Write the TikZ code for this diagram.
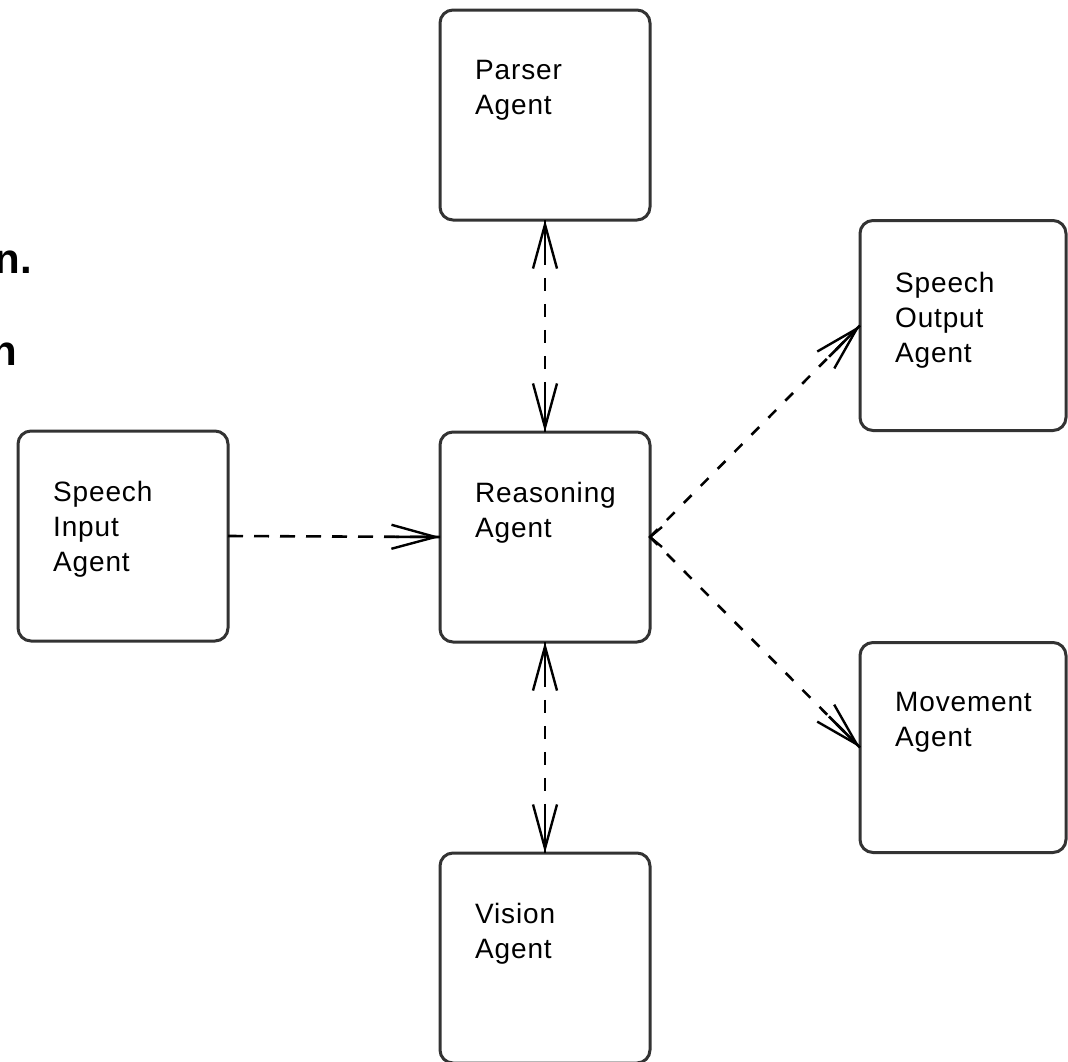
\documentclass[tikz,border=0pt]{standalone}
\usepackage{fontspec}
\setmainfont{Liberation Sans}
\newfontfamily\agentfont[LetterSpace=3]{Liberation Sans}
\usetikzlibrary{arrows.meta,calc}
\begin{document}
\begin{tikzpicture}[x=1pt,y=-1pt,
  agent/.style={draw=black!80,line width=3pt,rounded corners=13pt,
    minimum width=210pt,minimum height=210pt,inner sep=0pt,outer sep=0pt},
  caption/.style={anchor=north west,inner sep=0pt,align=left,
    font=\agentfont\fontsize{28}{35}\selectfont},
  barb/.tip={Straight Barb[length=44pt,width=24pt,line width=2.4pt]},
  link/.style={line width=2.6pt,dash pattern=on 13pt off 13pt,-barb},
  wide dashes/.style={dash pattern=on 15pt off 11pt},
  twoway/.style={link,barb-barb},
  shaft/.style={line width=2.6pt,solid},
  fragment/.style={anchor=base east,inner sep=0pt,
    font=\bfseries\fontsize{42}{50}\selectfont}
]
\fill[white] (0,0) rectangle (1068,1061);
\useasboundingbox (0,0) rectangle (1068,1061);

% agents
\node[agent] (parser) at (545,115) {};
\node[agent] (reason) at (545,537) {};
\node[agent] (vision) at (545,958) {};
\node[agent] (input)  at (123,536) {};
\node[agent,minimum width=206pt] (output) at (963,325.5) {};
\node[agent,minimum width=206pt] (move)   at (963,747.5) {};

% captions
\node[caption] (parser-t) at ([xshift=35pt,yshift=-50pt]parser.north west) {Parser\\Agent};
\node[caption] (reason-t) at ([xshift=35pt,yshift=-50pt]reason.north west) {Reasoning\\Agent};
\node[caption] (vision-t) at ([xshift=35pt,yshift=-50pt]vision.north west) {Vision\\Agent};
\node[caption] (input-t)  at ([xshift=35pt,yshift=-50pt]input.north west) {Speech\\Input\\Agent};
\node[caption] (output-t) at ([xshift=35pt,yshift=-52pt]output.north west) {Speech\\Output\\Agent};
\node[caption] (move-t)   at ([xshift=35pt,yshift=-50pt]move.north west) {Movement\\Agent};

% message links
\draw[link,wide dashes] (input.east) -- (reason.west);
\draw[twoway] (parser.south) -- (reason.north);
\draw[twoway] (reason.south) -- (vision.north);
\draw[link,dash pattern=on 11pt off 13pt] (reason.east) -- (output.west);
\draw[link,dash pattern=on 11pt off 13pt] (reason.east) -- (move.west);

% solid shafts inside the open heads
\draw[shaft] (reason.west) -- ($(reason.west)!44pt!(input.east)$);
\draw[shaft] (parser.south) -- ($(parser.south)!44pt!(reason.north)$);
\draw[shaft] (reason.north) -- ($(reason.north)!44pt!(parser.south)$);
\draw[shaft] (reason.south) -- ($(reason.south)!44pt!(vision.north)$);
\draw[shaft] (vision.north) -- ($(vision.north)!44pt!(reason.south)$);
\draw[shaft] (output.west) -- ($(output.west)!44pt!(reason.east)$);
\draw[shaft] (move.west) -- ($(move.west)!44pt!(reason.east)$);

% small tail mark where the two outgoing links leave
\draw[line width=2.4pt] ([shift={(12pt,-10pt)}]reason.east) -- (reason.east) -- ([shift={(12pt,10pt)}]reason.east);

% bold text fragments at the left edge
\node[fragment] (frag-a) at (32,273) {n.};
\node[fragment] (frag-b) at (17,365) {h};
\end{tikzpicture}
\end{document}
